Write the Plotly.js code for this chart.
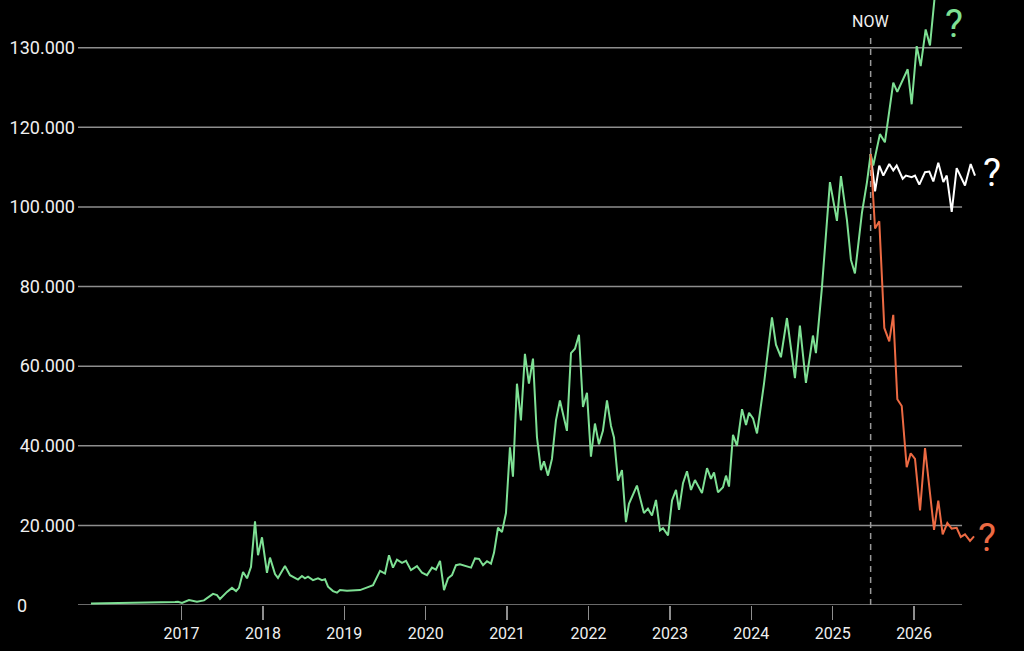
<!DOCTYPE html>
<html><head><meta charset="utf-8">
<script src="https://cdn.plot.ly/plotly-3.0.1.min.js"></script>
<style>html,body{margin:0;padding:0;background:#000;} #chart{width:1024px;height:651px;}</style>
</head><body><div id="chart"></div>
<script>
// Historical price (decimal year, USD)
const histYears = [2015.888,2016.20,2016.50,2016.80,2016.920,2016.957,2017.006,2017.092,2017.190,2017.276,2017.387,2017.436,2017.473,2017.559,2017.620,2017.670,2017.706,2017.756,2017.805,2017.854,2017.903,2017.940,2017.989,2018.050,2018.087,2018.149,2018.185,2018.271,2018.333,2018.431,2018.480,2018.517,2018.554,2018.615,2018.677,2018.726,2018.763,2018.800,2018.861,2018.910,2018.947,2019.033,2019.107,2019.193,2019.291,2019.353,2019.439,2019.500,2019.549,2019.598,2019.647,2019.709,2019.758,2019.819,2019.893,2019.955,2020.016,2020.077,2020.126,2020.176,2020.225,2020.274,2020.323,2020.372,2020.421,2020.483,2020.557,2020.606,2020.655,2020.704,2020.753,2020.802,2020.839,2020.888,2020.937,2020.986,2021.035,2021.072,2021.121,2021.170,2021.219,2021.268,2021.318,2021.367,2021.416,2021.453,2021.502,2021.551,2021.600,2021.649,2021.735,2021.785,2021.834,2021.883,2021.932,2021.981,2022.030,2022.079,2022.128,2022.177,2022.227,2022.276,2022.313,2022.362,2022.411,2022.460,2022.497,2022.595,2022.681,2022.730,2022.780,2022.829,2022.878,2022.915,2022.977,2023.026,2023.075,2023.112,2023.161,2023.210,2023.259,2023.308,2023.394,2023.456,2023.505,2023.542,2023.591,2023.652,2023.689,2023.726,2023.775,2023.824,2023.886,2023.935,2023.972,2024.021,2024.070,2024.156,2024.254,2024.303,2024.364,2024.438,2024.536,2024.597,2024.671,2024.757,2024.794,2024.867,2024.966,2025.052,2025.101,2025.175,2025.224,2025.273,2025.359,2025.421,2025.466];
const histValues = [350,420,600,700,750,800,500,1250,800,1150,2800,2500,1500,3300,4300,3500,4300,8300,6700,9600,21000,12500,17000,8100,11900,7750,6800,9800,7500,6400,7300,6700,7100,6250,6700,6250,6500,4600,3500,3100,3750,3600,3700,3750,4500,5000,8600,7900,12500,9400,11400,10600,11100,8750,9750,8100,7500,9400,8900,11100,3750,6700,7500,10000,10250,9900,9400,11700,11600,10000,11000,10400,13100,19400,18300,23100,39600,32250,55600,46400,63100,55600,61900,42100,33900,36100,32500,36700,46400,51400,43750,63300,64400,67900,49750,53300,37250,45600,40400,43750,51400,45000,42100,31250,33900,20800,25400,30000,23100,24200,22500,26400,18750,19300,17500,26250,28900,23900,30600,33600,28900,31400,28100,34400,31700,33300,28300,29600,32500,29750,42750,40000,49200,45250,48300,46900,43100,55600,72250,65400,62250,72100,57000,70200,55800,67700,63300,79600,106250,96500,107750,96700,86700,83300,98500,106250,113300];

// Scenario: up
const upYears = [2025.466,2025.498,2025.580,2025.641,2025.744,2025.793,2025.921,2025.970,2026.032,2026.081,2026.142,2026.195,2026.268];
const upValues = [113300,110400,118300,116250,131250,128900,134600,125800,140400,135400,144600,140600,156000];

// Scenario: sideways
const flatYears = [2025.466,2025.520,2025.572,2025.622,2025.695,2025.744,2025.786,2025.860,2025.900,2025.970,2026.011,2026.064,2026.134,2026.187,2026.236,2026.297,2026.359,2026.401,2026.462,2026.523,2026.625,2026.695,2026.748];
const flatValues = [113300,103900,110400,107900,110800,109200,110400,107100,107900,107500,107900,105600,108750,108900,106400,111100,106250,107900,98750,109750,105400,110800,107900];

// Scenario: down
const downYears = [2025.466,2025.520,2025.572,2025.634,2025.695,2025.744,2025.794,2025.848,2025.909,2025.958,2026.011,2026.073,2026.134,2026.195,2026.245,2026.297,2026.351,2026.408,2026.462,2026.523,2026.573,2026.625,2026.687,2026.736];
const downValues = [113300,94600,96400,69600,66250,72900,51700,50000,34600,38100,36700,23750,39400,28750,18900,26250,17750,20600,19200,19400,17100,17750,16100,17250];

const yTickVals = [0,20000,40000,60000,80000,100000,120000,140000];
const yTickText = ['', '20.000','40.000','60.000','80.000','100.000','120.000','130.000'];
const xTickVals = [2017,2018,2019,2020,2021,2022,2023,2024,2025,2026];
const xTickText = ['2017','2018','2019','2020','2021','2022','2023','2024','2025','2026'];
const nowYear = 2025.466;

const FONT = 'Roboto, "DejaVu Sans Condensed", sans-serif';
const GREEN = '#7ee094';
const RED = '#ec6a43';
const GRID = '#8e8e8e';
const TXT = '#f0f0f0';
const xStart = 2015.7285, xGridEnd = 2026.589, xEnd = 2027.178;
const yTop = 152000;

const traces = [
  {x: histYears, y: histValues, mode: 'lines', line: {color: GREEN, width: 2}, hoverinfo: 'skip'},
  {x: flatYears, y: flatValues, mode: 'lines', line: {color: '#ffffff', width: 2}, hoverinfo: 'skip'},
  {x: upYears, y: upValues, mode: 'lines', line: {color: GREEN, width: 2}, hoverinfo: 'skip'},
  {x: downYears, y: downValues, mode: 'lines', line: {color: RED, width: 2}, hoverinfo: 'skip'}
];

const shapes = yTickVals.map(v => ({type: 'line', xref: 'x', yref: 'y', x0: xStart, x1: xGridEnd, y0: v, y1: v, line: {color: GRID, width: 1.5}, layer: 'below'}));
shapes.push({type: 'line', xref: 'x', yref: 'y', x0: nowYear, x1: nowYear, y0: 0, y1: 143000, line: {color: '#9a9a9a', width: 1.5, dash: '6px,5px'}, layer: 'below'});

const annotations = [
  {xref: 'paper', yref: 'y', x: -0.0676, y: 0, xanchor: 'left', yanchor: 'middle', text: '0', showarrow: false, font: {family: FONT, size: 18, color: TXT}},
  {xref: 'x', yref: 'y', x: nowYear, y: 146500, text: 'NOW', showarrow: false, xanchor: 'center', yanchor: 'middle', font: {family: FONT, size: 16, color: TXT}},
  {xref: 'x', yref: 'y', x: 2026.490, y: yTop, text: '?', showarrow: false, xanchor: 'center', yanchor: 'top', font: {family: FONT, size: 38, color: GREEN}},
  {xref: 'x', yref: 'y', x: 2026.951, y: 108500, text: '?', showarrow: false, xanchor: 'center', yanchor: 'middle', font: {family: FONT, size: 38, color: '#ffffff'}},
  {xref: 'x', yref: 'y', x: 2026.896, y: 16750, text: '?', showarrow: false, xanchor: 'center', yanchor: 'middle', font: {family: FONT, size: 38, color: RED}}
];

const layout = {
  width: 1024, height: 651,
  paper_bgcolor: '#000', plot_bgcolor: '#000',
  margin: {l: 78, r: 14, t: 0, b: 46},
  showlegend: false,
  xaxis: {range: [xStart, xEnd], tickvals: xTickVals, ticktext: xTickText, showgrid: false, zeroline: false, showline: false,
    ticks: 'outside', ticklen: 14, tickwidth: 1.5, tickcolor: GRID, tickfont: {family: FONT, size: 16, color: TXT}},
  yaxis: {range: [0, yTop], tickvals: yTickVals, ticktext: yTickText, showgrid: false, zeroline: false, showline: false,
    ticks: '', tickfont: {family: FONT, size: 18, color: TXT}, ticklabelstandoff: 2},
  shapes: shapes,
  annotations: annotations
};

Plotly.newPlot('chart', traces, layout, {staticPlot: true, displayModeBar: false});
</script>
</body></html>
